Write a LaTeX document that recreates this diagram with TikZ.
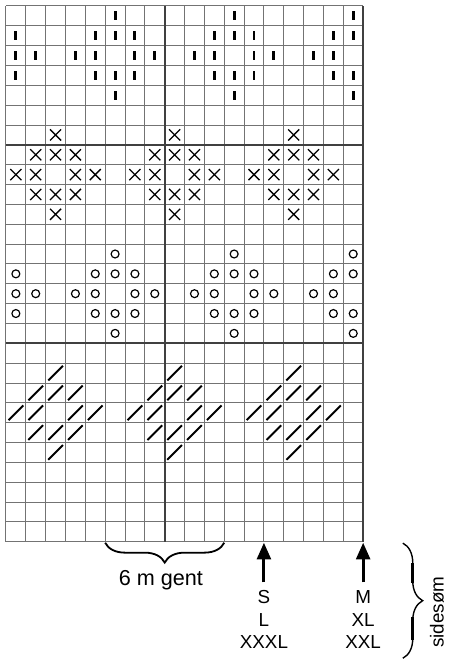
\documentclass[tikz,border=0pt]{standalone}
\usepackage{fontspec}
\setmainfont{Liberation Sans}
\usetikzlibrary{positioning, calc, arrows.meta, decorations.pathreplacing}

\begin{document}
\begin{tikzpicture}[x=0.5cm, y=0.5cm,
    stitchbar/.style={fill=black},
    stitchx/.style={line width=0.9pt},
    stitchring/.style={line width=0.85pt},
    stitchslash/.style={line width=1.4pt},
    sizearrow/.style={line width=2.1pt, -{Triangle[width=0.35cm, length=0.42cm]}},
    lbl/.style={font=\fontsize{13.5}{16}\selectfont, inner sep=0pt}]

    \useasboundingbox (-0.3,-6.06) rectangle (22.33,27.3);

    % Grid
    \draw[black!55, line width=0.7pt] (0,0) grid[step=1] (18,27);
    \draw[black!75, line width=1.7pt] (0,20) -- (18,20);
    \draw[black!75, line width=1.7pt] (0,10) -- (18,10);
    \draw[black!75, line width=1.7pt] (8,0) -- (8,27);
    \draw[black!75, line width=1.7pt] (18,0) -- (18,27);

    \begin{scope}
        \clip (0,0) rectangle (18,27);

        % Bars and rings, diamonds round columns 0, 6, 12, 18
        \foreach \c in {0,6,12,18}
        \foreach \dx/\dr in {0/0,-1/1,0/1,1/1,-2/2,-1/2,1/2,2/2,-1/3,0/3,1/3,0/4} {
            \fill[stitchbar, shift={(\c+\dx-0.5,26.5-\dr)}] (-0.075,-0.225) rectangle (0.075,0.225);
            \draw[stitchring, shift={(\c+\dx-0.5,14.5-\dr)}] (0,0) circle (0.2);
        }

        % Crosses and slashes, diamonds round columns 3, 9, 15
        \foreach \c in {3,9,15}
        \foreach \dx/\dr in {0/0,-1/1,0/1,1/1,-2/2,-1/2,1/2,2/2,-1/3,0/3,1/3,0/4} {
            \draw[stitchx, shift={(\c+\dx-0.5,20.5-\dr)}] (-0.28,-0.28) -- (0.28,0.28) (-0.28,0.28) -- (0.28,-0.28);
            \draw[stitchslash, shift={(\c+\dx-0.5,8.5-\dr)}] (-0.37,-0.37) -- (0.37,0.37);
        }
    \end{scope}

    % Repeat brace
    \coordinate (gentL) at (5,-0.05);
    \coordinate (gentR) at (11,-0.05);
    \draw[line width=1.3pt, decorate, decoration={brace, mirror, amplitude=0.5cm}] (gentL) -- (gentR);
    \node[lbl, font=\fontsize{15.5}{18}\selectfont] (gent) at (7.81,-1.94) {6 m gent};

    % Size arrows
    \coordinate (footS) at (13,-2.05);
    \coordinate (tipS) at (13,-0.05);
    \draw[sizearrow] (footS) -- (tipS);
    \coordinate (footM) at (18,-2.05);
    \coordinate (tipM) at (18,-0.05);
    \draw[sizearrow] (footM) -- (tipM);

    \node[lbl] (sizeS) at (13,-2.79) {S};
    \node[lbl] (sizeL) at (13,-3.95) {L};
    \node[lbl] (sizeXXXL) at (13,-5.06) {XXXL};
    \node[lbl] (sizeM) at (18,-2.79) {M};
    \node[lbl] (sizeXL) at (18,-3.95) {XL};
    \node[lbl] (sizeXXL) at (18,-5.06) {XXL};

    % Side seam brace
    \coordinate (seamT) at (20,-0.07);
    \coordinate (seamB) at (20,-5.87);
    \draw[line width=1pt, decorate, decoration={brace, amplitude=0.5cm}] (seamT) -- (seamB);
    \draw[line width=2.2pt] (20.5,-1.08) -- (20.5,-2.09);
    \draw[line width=2.2pt] (20.5,-3.8) -- (20.5,-4.96);
    \node[lbl, rotate=90] (side) at (21.72,-3.55) {sidesøm};

\end{tikzpicture}
\end{document}
